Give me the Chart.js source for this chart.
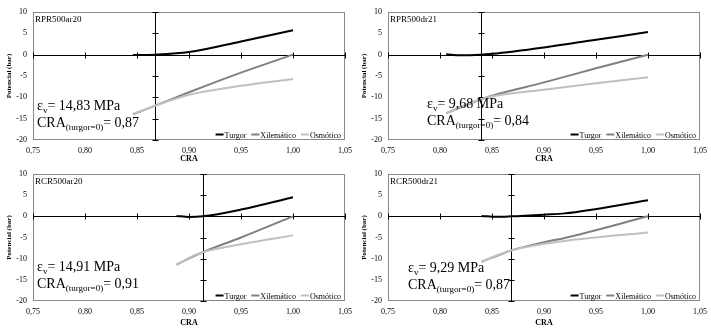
<!DOCTYPE html>
<html>
<head>
<meta charset="utf-8">
<script src="https://cdn.jsdelivr.net/npm/chart.js@4.4.1/dist/chart.umd.min.js"></script>
<style>
  body { margin: 0; background: #fff; width: 711px; height: 328px; overflow: hidden; }
  canvas { position: absolute; }
</style>
</head>
<body>
<canvas id="c1" width="355" height="164" style="left:0;top:0"></canvas>
<canvas id="c2" width="356" height="164" style="left:355px;top:0"></canvas>
<canvas id="c3" width="355" height="164" style="left:0;top:164px"></canvas>
<canvas id="c4" width="356" height="164" style="left:355px;top:164px"></canvas>
<script>
// ---- data ----
const panelNames = ['RPR500ar20', 'RPR500dr21', 'RCR500ar20', 'RCR500dr21'];
const elasticity = ['14,83', '9,68', '14,91', '9,29'];   // εv, MPa
const craZeroTurgor = [0.867, 0.839, 0.913, 0.868];     // where the axes cross
const seriesNames = ['Turgor', 'Xilemático', 'Osmótico'];
const xTicks = [0.75, 0.80, 0.85, 0.90, 0.95, 1.00, 1.05];
const yTicks = [-20, -15, -10, -5, 0, 5, 10];

const cra1 = [0.846, 0.867, 0.90, 0.95, 1.00];
const turgor1 = [-0.1, 0.0, 0.6, 3.1, 5.7];
const xil1 = [-14.0, -12.0, -8.8, -4.2, 0.0];
const osm1 = [-13.9, -12.0, -9.4, -7.3, -5.7];

const cra2 = [0.806, 0.82, 0.839, 0.85, 0.90, 0.95, 1.00];
const turgor2 = [0.1, -0.15, 0.0, 0.2, 1.7, 3.5, 5.3];
const xil2 = [-13.7, -12.35, -10.5, -9.6, -6.5, -3.2, 0.0];
const osm2 = [-13.8, -12.2, -10.5, -9.8, -8.2, -6.7, -5.3];

const cra3 = [0.888, 0.90, 0.913, 0.95, 1.00];
const turgor3 = [0.1, -0.15, 0.0, 1.6, 4.5];
const xil3 = [-11.4, -9.95, -8.5, -5.0, 0.0];
const osm3 = [-11.5, -9.8, -8.5, -6.6, -4.5];

const cra4 = [0.84, 0.855, 0.868, 0.90, 0.92, 1.00];
const turgor4 = [0.1, -0.1, 0.0, 0.4, 0.7, 3.8];
const xil4 = [-10.7, -9.3, -8.1, -6.1, -5.1, 0.0];
const osm4 = [-10.8, -9.2, -8.1, -6.5, -5.8, -3.8];

const colors = ['#000000', '#808080', '#c0c0c0'];
const SERIF = '"Liberation Serif", "Times New Roman", serif';

function pts(xs, ys) {
  return xs.map((x, i) => ({ x: x, y: ys[i] }));
}

// border of the plot and the two crossing axes (Excel style)
const crossAxes = {
  id: 'crossAxes',
  beforeDatasetsDraw(chart, args, opts) {
    const ctx = chart.ctx, a = chart.chartArea;
    const sx = chart.scales.x, sy = chart.scales.y;
    ctx.save();
    ctx.strokeStyle = '#898989';
    ctx.lineWidth = 1;
    ctx.strokeRect(a.left + 0.5, a.top + 0.5, a.width - 1, a.height - 1);

    ctx.strokeStyle = '#000';
    const y0 = Math.round(sy.getPixelForValue(0)) + 0.5;
    const xc = Math.round(sx.getPixelForValue(opts.cross)) + 0.5;
    ctx.beginPath();
    ctx.moveTo(a.left, y0); ctx.lineTo(a.right, y0);
    xTicks.forEach(v => {
      const px = Math.round(sx.getPixelForValue(v)) + 0.5;
      ctx.moveTo(px, y0 - 3); ctx.lineTo(px, y0 + 3);
    });
    ctx.moveTo(xc, a.top); ctx.lineTo(xc, a.bottom);
    yTicks.forEach(v => {
      const py = Math.round(sy.getPixelForValue(v)) + 0.5;
      ctx.moveTo(xc - 3, py); ctx.lineTo(xc + 3, py);
    });
    ctx.stroke();
    ctx.restore();
  }
};

// panel name, εv / CRA annotation and legend
const labels = {
  id: 'labels',
  afterDraw(chart, args, opts) {
    const ctx = chart.ctx, a = chart.chartArea;
    ctx.save();
    ctx.fillStyle = '#000';
    ctx.textBaseline = 'alphabetic';
    ctx.textAlign = 'left';

    ctx.font = '9px ' + SERIF;
    ctx.fillText(opts.name, a.left + 2, a.top + 10);

    // εv= ... MPa
    let x = opts.tx, y = opts.ty;
    ctx.font = '14px ' + SERIF;
    ctx.fillText('ε', x, y);
    x += ctx.measureText('ε').width;
    ctx.font = '9px ' + SERIF;
    ctx.fillText('v', x, y + 3);
    x += ctx.measureText('v').width;
    ctx.font = '14px ' + SERIF;
    ctx.fillText('= ' + opts.ev + ' MPa', x, y);

    // CRA(turgor=0)= ...
    x = opts.tx; y = opts.ty + 17;
    ctx.fillText('CRA', x, y);
    x += ctx.measureText('CRA').width;
    ctx.font = '9px ' + SERIF;
    ctx.fillText('(turgor=0)', x, y + 3);
    x += ctx.measureText('(turgor=0)').width;
    ctx.font = '14px ' + SERIF;
    ctx.fillText('= ' + opts.cra.toFixed(2).replace('.', ','), x, y);

    // legend, right aligned at the bottom of the plot
    ctx.font = '8px ' + SERIF;
    const ds = chart.data.datasets;
    const widths = ds.map(d => 9 + ctx.measureText(d.label).width);
    const total = widths.reduce((s, w) => s + w, 0) + 5 * (ds.length - 1);
    let lx = a.right - 4 - total;
    const ly = a.bottom - 5;
    ds.forEach((d, i) => {
      ctx.strokeStyle = d.borderColor;
      ctx.lineWidth = 2;
      ctx.beginPath();
      ctx.moveTo(lx, ly - 0.5); ctx.lineTo(lx + 8, ly - 0.5);
      ctx.stroke();
      ctx.fillText(d.label, lx + 9, ly + 2.5);
      lx += widths[i] + 5;
    });
    ctx.restore();
  }
};

function makePanel(id, k, cra, tur, xil, osm, tx, ty, topPad, xHeight, rightPad) {
  const series = [tur, xil, osm];
  new Chart(document.getElementById(id), {
    type: 'line',
    data: {
      datasets: series.map((s, i) => ({
        label: seriesNames[i],
        data: pts(cra, s),
        borderColor: colors[i],
        backgroundColor: colors[i],
        borderWidth: 2,
        pointRadius: 0,
        cubicInterpolationMode: 'monotone',
        order: 2 - i,       // later series on top, like Excel
        fill: false
      }))
    },
    options: {
      responsive: false,
      animation: false,
      events: [],
      layout: { padding: { left: 0, top: topPad, right: rightPad, bottom: 0 } },
      plugins: {
        legend: { display: false },
        tooltip: { enabled: false },
        crossAxes: { cross: craZeroTurgor[k] },
        labels: { name: panelNames[k], ev: elasticity[k], cra: craZeroTurgor[k], tx: tx, ty: ty }
      },
      scales: {
        x: {
          type: 'linear',
          min: 0.75, max: 1.05,
          afterBuildTicks: s => { s.ticks = xTicks.map(v => ({ value: v })); },
          afterFit: s => { s.height = xHeight; s.paddingLeft = 0; s.paddingRight = 0; },
          grid: { display: false, drawTicks: false },
          border: { display: false },
          ticks: {
            padding: 6,
            maxRotation: 0,
            color: '#000',
            font: { family: SERIF, size: 8 },
            callback: v => v.toFixed(2).replace('.', ',')
          },
          title: { display: true, text: 'CRA', color: '#000', padding: 0,
                   font: { family: SERIF, size: 8, weight: 'bold' } }
        },
        y: {
          min: -20, max: 10,
          afterBuildTicks: s => { s.ticks = yTicks.map(v => ({ value: v })); },
          afterFit: s => { s.width = 33; s.paddingTop = 0; s.paddingBottom = 0; },
          grid: { display: false, drawTicks: false },
          border: { display: false },
          ticks: { padding: 6, color: '#000', font: { family: SERIF, size: 8 } },
          title: { display: true, text: 'Potencial (bar)', color: '#000',
                   padding: { top: 5, bottom: 0 },
                   font: { family: SERIF, size: 7, weight: 'bold' } }
        }
      }
    },
    plugins: [crossAxes, labels]
  });
}

makePanel('c1', 0, cra1, turgor1, xil1, osm1, 37, 110, 12, 24, 10);
makePanel('c2', 1, cra2, turgor2, xil2, osm2, 72, 108, 12, 24, 11);
makePanel('c3', 2, cra3, turgor3, xil3, osm3, 37, 107, 10, 27, 10);
makePanel('c4', 3, cra4, turgor4, xil4, osm4, 53, 108, 10, 27, 11);
</script>
</body>
</html>
